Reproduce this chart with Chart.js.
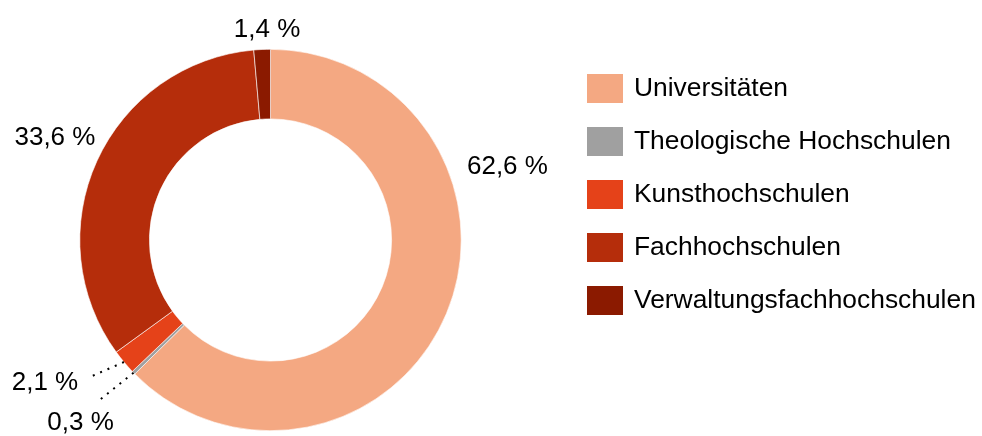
<!DOCTYPE html>
<html>
<head>
<meta charset="utf-8">
<script src="https://cdn.jsdelivr.net/npm/chart.js@4"></script>
<style>
  body { margin: 0; background: #fff; }
  #wrap { width: 982px; height: 436px; }
</style>
</head>
<body>
<div id="wrap"><canvas id="hsChart" width="982" height="436"></canvas></div>
<script>
const categories = ['Universitäten', 'Theologische Hochschulen', 'Kunsthochschulen', 'Fachhochschulen', 'Verwaltungsfachhochschulen'];
const shares = [62.6, 0.3, 2.1, 33.6, 1.4];
const shareLabels = ['62,6 %', '0,3 %', '2,1 %', '33,6 %', '1,4 %'];
const colors = ['#f4a882', '#a0a0a0', '#e54219', '#b52d0b', '#8b1a00'];

const FONT = '26px "Liberation Sans", Arial, sans-serif';
const LEGEND_FONT = '26.4px "Liberation Sans", Arial, sans-serif';

// label placement relative to the outer edge at the slice's mid-angle
const labelPos = [
    { dx: 61, dy: -147 },
    { dx: -53, dy: 50, leader: [-36, 29] },
    { dx: -79, dy: 21, leader: [-34, 15] },
    { dx: -42, dy: -23 },
    { dx: 5, dy: -20 }
];

const sliceLabels = {
    id: 'sliceLabels',
    afterDraw(chart) {
        const ctx = chart.ctx;
        const arcs = chart.getDatasetMeta(0).data;
        ctx.save();
        ctx.font = FONT;
        ctx.fillStyle = '#000';
        ctx.textAlign = 'center';
        ctx.textBaseline = 'middle';
        arcs.forEach((arc, i) => {
            const p = arc.getProps(['x', 'y', 'startAngle', 'endAngle', 'outerRadius'], true);
            const mid = (p.startAngle + p.endAngle) / 2;
            const ax = p.x + Math.cos(mid) * p.outerRadius;
            const ay = p.y + Math.sin(mid) * p.outerRadius;
            const pos = labelPos[i];
            if (pos.leader) {
                ctx.save();
                ctx.strokeStyle = '#000';
                ctx.lineWidth = 2;
                ctx.setLineDash([2, 6]);
                ctx.beginPath();
                ctx.moveTo(ax, ay);
                ctx.lineTo(ax + pos.leader[0], ay + pos.leader[1]);
                ctx.stroke();
                ctx.restore();
            }
            ctx.fillText(shareLabels[i], ax + pos.dx, ay + pos.dy);
        });
        ctx.restore();
    }
};

const sideLegend = {
    id: 'sideLegend',
    afterDraw(chart) {
        const ctx = chart.ctx;
        ctx.save();
        ctx.font = LEGEND_FONT;
        ctx.textAlign = 'left';
        ctx.textBaseline = 'alphabetic';
        chart.data.labels.forEach((lab, i) => {
            const top = 74 + i * 53;
            ctx.fillStyle = chart.data.datasets[0].backgroundColor[i];
            ctx.fillRect(587, top, 36, 29);
            ctx.fillStyle = '#000';
            ctx.fillText(lab, 634, top + 21.5);
        });
        ctx.restore();
    }
};

new Chart(document.getElementById('hsChart'), {
    type: 'doughnut',
    data: {
        labels: categories,
        datasets: [{
            data: shares,
            backgroundColor: colors,
            borderColor: '#ffffff',
            borderWidth: 0.6
        }]
    },
    options: {
        responsive: false,
        animation: false,
        cutout: '63.5%',
        layout: {
            padding: { left: 79.5, right: 520.5, top: 49, bottom: 5 }
        },
        plugins: {
            legend: { display: false },
            tooltip: { enabled: false }
        }
    },
    plugins: [sliceLabels, sideLegend]
});
</script>
</body>
</html>
